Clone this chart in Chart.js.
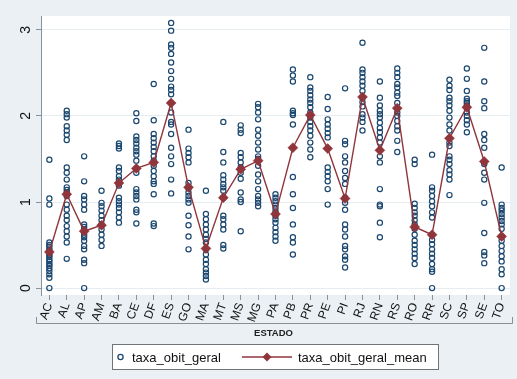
<!DOCTYPE html>
<html>
<head>
<meta charset="utf-8">
<style>
  html, body { margin: 0; padding: 0; background: #eaf0f3; }
  #wrap { position: relative; width: 517px; height: 379px; }
</style>
<script src="https://cdn.jsdelivr.net/npm/chart.js@4"></script>
</head>
<body>
<div id="wrap"><canvas id="c" width="517" height="379"></canvas></div>
<script>
const states = ['AC','AL','AP','AM','BA','CE','DF','ES','GO','MA','MT','MS','MG','PA','PB','PR','PE','PI','RJ','RN','RS','RO','RR','SC','SP','SE','TO'];
const meanRate = [0.42,1.09,0.66,0.73,1.22,1.39,1.46,2.15,1.17,0.46,1.05,1.38,1.48,0.86,1.63,2.01,1.62,1.04,2.22,1.60,2.09,0.71,0.62,1.74,2.10,1.47,0.60];
const yTickValues = [0, 1, 2, 3];
const xTitle = 'ESTADO';
const seriesNames = ['taxa_obit_geral', 'taxa_obit_geral_mean'];

const obsAC = [1.49,1.04,0.97,0.53,0.50,0.48,0.45,0.43,0.40,0.38,0.36,0.33,0.31,0.28,0.26,0.23,0.20,0.16,0.12,0.00];
const obsAL = [2.06,2.02,1.98,1.88,1.83,1.78,1.72,1.40,1.34,1.26,1.17,1.14,1.11,1.07,0.97,0.91,0.84,0.79,0.72,0.66,0.60,0.53,0.34];
const obsAP = [1.53,1.24,1.07,1.03,0.97,0.91,0.74,0.71,0.68,0.62,0.59,0.55,0.49,0.45,0.33,0.29,0.00];
const obsAM = [1.13,0.99,0.95,0.90,0.84,0.79,0.74,0.68,0.62,0.56,0.49];
const obsBA = [1.68,1.65,1.62,1.40,1.36,1.30,1.26,1.22,1.19,1.05,1.01,0.97,0.93,0.88,0.82,0.76];
const obsCE = [2.03,1.94,1.76,1.72,1.68,1.63,1.59,1.55,1.48,1.39,1.34,1.15,1.11,1.07,1.03,0.91,0.88,0.75];
const obsDF = [2.37,1.95,1.79,1.74,1.69,1.64,1.59,1.53,1.48,1.42,1.36,1.30,1.24,1.21,1.09,0.75,0.72];
const obsES = [3.08,2.99,2.83,2.79,2.72,2.62,2.52,2.43,2.34,2.30,2.25,2.04,1.93,1.90,1.79,1.63,1.53,1.44,1.26,1.10];
const obsGO = [1.84,1.62,1.57,1.52,1.46,1.22,1.16,1.11,1.07,1.03,0.99,0.84,0.73,0.60,0.45];
const obsMA = [1.13,0.86,0.80,0.74,0.68,0.62,0.57,0.53,0.45,0.39,0.33,0.28,0.22,0.18,0.14,0.10];
const obsMT = [1.93,1.58,1.46,1.31,1.26,1.21,1.17,1.13,1.05,0.84,0.80,0.74,0.68,0.50,0.46];
const obsMS = [1.89,1.84,1.80,1.57,1.52,1.46,1.40,1.34,1.27,1.11,1.03,1.00,0.66];
const obsMG = [2.14,2.10,2.04,1.96,1.84,1.77,1.69,1.61,1.53,1.50,1.42,1.32,1.24,1.15,1.07,1.03,0.99,0.95];
const obsPA = [1.09,1.05,1.01,0.97,0.93,0.89,0.84,0.80,0.76,0.70,0.65,0.60,0.55];
const obsPB = [2.54,2.47,2.40,2.06,2.03,2.01,1.90,1.29,1.09,0.93,0.74,0.59,0.53,0.39];
const obsPR = [2.45,2.33,2.29,2.24,2.19,2.15,2.10,2.04,1.98,1.93,1.88,1.83,1.77,1.69,1.61,1.52];
const obsPE = [2.22,2.08,1.96,1.90,1.85,1.80,1.75,1.40,1.35,1.30,1.24,1.15,0.97];
const obsPI = [2.32,1.71,1.67,1.53,1.46,1.36,1.28,1.21,1.05,0.99,0.91,0.74,0.68,0.60,0.49,0.45,0.37,0.33,0.24];
const obsRJ = [2.85,2.54,2.50,2.45,2.40,2.35,2.29,2.21,2.16,2.11,2.02,1.98,1.93,1.83];
const obsRN = [2.40,2.21,2.12,2.06,2.02,1.98,1.92,1.86,1.81,1.75,1.69,1.53,1.46,1.15,0.97,0.95,0.76,0.59];
const obsRS = [2.55,2.50,2.45,2.37,2.33,2.27,2.23,2.15,2.04,2.00,1.94,1.88,1.83,1.71,1.58];
const obsRO = [1.49,1.44,0.98,0.93,0.88,0.84,0.79,0.74,0.69,0.62,0.55,0.50,0.45,0.40,0.35,0.28];
const obsRR = [1.55,1.17,1.13,1.07,1.01,0.95,0.88,0.82,0.62,0.56,0.51,0.45,0.40,0.35,0.28,0.22,0.19,0.00];
const obsSC = [2.42,2.35,2.30,2.21,2.17,2.12,2.06,1.98,1.90,1.83,1.69,1.65,1.53,1.49,1.44,1.37,1.32,1.26,1.08];
const obsSP = [2.55,2.43,2.29,2.20,2.17,2.15,2.12,2.09,2.04,2.00,1.95,1.90,1.81];
const obsSE = [2.79,2.40,2.17,2.09,1.79,1.72,1.63,1.44,1.34,1.26,0.99,0.64,0.42,0.38,0.29];
const obsTO = [1.40,0.97,0.93,0.90,0.86,0.82,0.78,0.74,0.69,0.60,0.55,0.49,0.43,0.37,0.31,0.22,0.16,0.00];

const observations = [obsAC,obsAL,obsAP,obsAM,obsBA,obsCE,obsDF,obsES,obsGO,obsMA,obsMT,obsMS,obsMG,obsPA,obsPB,obsPR,obsPE,obsPI,obsRJ,obsRN,obsRS,obsRO,obsRR,obsSC,obsSP,obsSE,obsTO];

const NAVY = '#1a476f';
const MAROON = '#90353b';
const FONT = '"Liberation Sans", Arial, sans-serif';

const scatterData = [];
observations.forEach((arr, i) => arr.forEach(v => scatterData.push({ x: i, y: v })));
const meanData = meanRate.map((v, i) => ({ x: i, y: v }));

const deco = {
  id: 'deco',
  beforeDraw(chart) {
    const ctx = chart.ctx, a = chart.chartArea;
    ctx.save();
    ctx.fillStyle = '#eaf0f3';
    ctx.fillRect(0, 0, chart.width, chart.height);
    ctx.fillStyle = '#ffffff';
    ctx.fillRect(a.left, a.top, a.right - a.left, a.bottom - a.top);
    ctx.restore();
  },
  afterDraw(chart) {
    const ctx = chart.ctx, a = chart.chartArea;
    const ys = chart.scales.y;
    ctx.save();
    ctx.fillStyle = '#111';
    ctx.font = '14px ' + FONT;
    ctx.textAlign = 'center';
    ctx.textBaseline = 'middle';
    yTickValues.forEach(v => {
      ctx.save();
      ctx.translate(26.5, ys.getPixelForValue(v));
      ctx.rotate(-Math.PI / 2);
      ctx.fillText(String(v), 0, 0);
      ctx.restore();
    });
    ctx.strokeStyle = '#8a8f93';
    ctx.lineWidth = 1;
    ctx.beginPath();
    ctx.moveTo(36.5, 317);
    ctx.lineTo(36.5, 323.5);
    ctx.lineTo(512.5, 323.5);
    ctx.lineTo(512.5, 317);
    ctx.stroke();
    ctx.fillStyle = '#222';
    ctx.font = 'bold 9.5px ' + FONT;
    ctx.textAlign = 'center';
    ctx.textBaseline = 'middle';
    ctx.fillText(xTitle, (a.left + a.right) / 2 - 2, 333);
    ctx.fillStyle = '#ffffff';
    ctx.fillRect(112.5, 344.5, 326, 25);
    ctx.strokeStyle = '#6f7478';
    ctx.strokeRect(112.5, 344.5, 326, 25);
    const ly = 357;
    ctx.strokeStyle = NAVY;
    ctx.lineWidth = 1.3;
    ctx.beginPath();
    ctx.arc(120.5, ly, 2.6, 0, Math.PI * 2);
    ctx.stroke();
    ctx.strokeStyle = MAROON;
    ctx.lineWidth = 1.4;
    ctx.beginPath();
    ctx.moveTo(242, ly);
    ctx.lineTo(292, ly);
    ctx.stroke();
    ctx.fillStyle = MAROON;
    ctx.beginPath();
    ctx.moveTo(267, ly - 4.5);
    ctx.lineTo(271.5, ly);
    ctx.lineTo(267, ly + 4.5);
    ctx.lineTo(262.5, ly);
    ctx.closePath();
    ctx.fill();
    ctx.fillStyle = '#111';
    ctx.font = '13px ' + FONT;
    ctx.textAlign = 'left';
    ctx.textBaseline = 'middle';
    ctx.fillText(seriesNames[0], 132, ly + 1);
    ctx.fillText(seriesNames[1], 298, ly + 1);
    ctx.restore();
  }
};

new Chart(document.getElementById('c'), {
  data: {
    datasets: [
      {
        type: 'line',
        label: seriesNames[1],
        data: meanData,
        borderColor: MAROON,
        backgroundColor: MAROON,
        borderWidth: 1.4,
        pointStyle: 'rectRot',
        pointRadius: 5,
        pointBorderWidth: 0.5,
        pointBackgroundColor: MAROON,
        pointBorderColor: MAROON,
        tension: 0,
        fill: false
      },
      {
        type: 'scatter',
        label: seriesNames[0],
        data: scatterData,
        pointStyle: 'circle',
        pointRadius: 2.6,
        pointBorderWidth: 1.2,
        borderColor: NAVY,
        backgroundColor: 'rgba(0,0,0,0)',
        pointBackgroundColor: 'rgba(0,0,0,0)'
      }
    ]
  },
  options: {
    responsive: false,
    animation: false,
    devicePixelRatio: 1,
    layout: { padding: { top: 16, right: 7, left: 0, bottom: 0 } },
    plugins: { legend: { display: false }, tooltip: { enabled: false } },
    scales: {
      x: {
        type: 'linear',
        min: -0.48,
        max: 26.48,
        afterBuildTicks: (s) => { s.ticks = states.map((_, i) => ({ value: i })); },
        afterFit: (s) => { s.height = 84; },
        ticks: {
          autoSkip: false,
          minRotation: 70,
          maxRotation: 70,
          padding: 1,
          color: '#111',
          font: { family: FONT, size: 12 },
          callback: (v) => states[v]
        },
        grid: { display: true, drawOnChartArea: false, drawTicks: true, tickLength: 5, tickColor: '#8a9299', tickWidth: 1 },
        border: { display: false }
      },
      y: {
        min: -0.08,
        max: 3.16,
        afterBuildTicks: (s) => { s.ticks = yTickValues.map(v => ({ value: v })); },
        afterFit: (s) => { s.width = 41; },
        ticks: { display: false },
        grid: { color: '#e6edf0', lineWidth: 1, drawTicks: true, tickLength: 5, tickColor: '#8a9299' },
        border: { display: true, color: '#8a9299', width: 1 }
      }
    }
  },
  plugins: [deco]
});
</script>
</body>
</html>
